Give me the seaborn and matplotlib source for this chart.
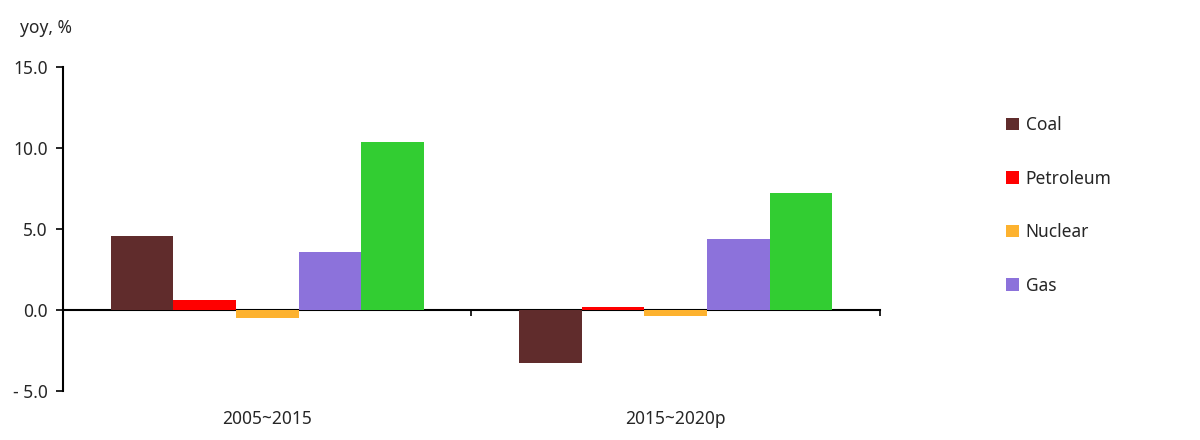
import pandas as pd
import matplotlib
matplotlib.use("Agg")
import matplotlib.pyplot as plt
import seaborn as sns

# Dados
periods = ["2005~2015", "2015~2020p"]
sources = ["Coal", "Petroleum", "Nuclear", "Gas", "Renewables"]
coal = [4.55, -3.25]
petroleum = [0.62, 0.20]
nuclear = [-0.52, -0.36]
gas = [3.56, 4.40]
renewables = [10.35, 7.20]
y_ticks = [-5, 0, 5, 10, 15]
y_tick_labels = ["- 5.0", "0.0", "5.0", "10.0", "15.0"]

colors = ["#602C2C", "#FF0000", "#FDB22F", "#8C72DB", "#32CD32"]

sns.set_style("white")
plt.rcParams["font.family"] = ["Noto Sans", "DejaVu Sans"]

rows = []
for name, vals in zip(sources, [coal, petroleum, nuclear, gas, renewables]):
    for p, v in zip(periods, vals):
        rows.append({"period": p, "source": name, "value": v})
df = pd.DataFrame(rows)

fig = plt.figure(figsize=(12, 4.4), dpi=100)
ax = fig.add_axes([0.0525, 0.1114, 0.6808, 0.7363])

sns.barplot(data=df, x="period", y="value", hue="source", order=periods,
            hue_order=sources, palette=colors, saturation=1, width=0.766,
            gap=0, errorbar=None, ax=ax, legend=True, linewidth=0,
            edgecolor="none")

ax.set_xlim(-0.5, 1.5)
ax.set_ylim(-5, 15)
ax.set_yticks(y_ticks)
ax.set_yticklabels(y_tick_labels)
ax.set_xlabel("")
ax.set_ylabel("")

for s in ["top", "right", "bottom"]:
    ax.spines[s].set_visible(False)
ax.spines["left"].set_color("black")
ax.spines["left"].set_linewidth(1.5)
ax.tick_params(axis="y", direction="out", length=5, width=1.2, color="black",
               labelsize=12.5, pad=6, left=True)
ax.tick_params(axis="x", length=0, labelsize=12.5, pad=14)

# linha do zero com marcas entre categorias
zero_ax = ax.secondary_xaxis(0.25)
zero_ax.set_xticks([-0.5, 0.5, 1.5])
zero_ax.set_xticklabels([])
zero_ax.spines["bottom"].set_linewidth(1.5)
zero_ax.spines["bottom"].set_color("black")
zero_ax.tick_params(axis="x", direction="out", length=4, width=1.2, color="black")

handles, labels = ax.get_legend_handles_labels()
ax.legend(handles[:4], labels[:4], loc="upper left",
          bbox_to_anchor=(0.825, 0.772), bbox_transform=fig.transFigure,
          frameon=False, fontsize=12.5, handlelength=0.75, handleheight=0.75,
          handletextpad=0.4, labelspacing=2.05)

fig.text(0.017, 0.937, "yoy, %", fontsize=12.5, ha="left", va="center")

fig.savefig("out.png", dpi=100)
